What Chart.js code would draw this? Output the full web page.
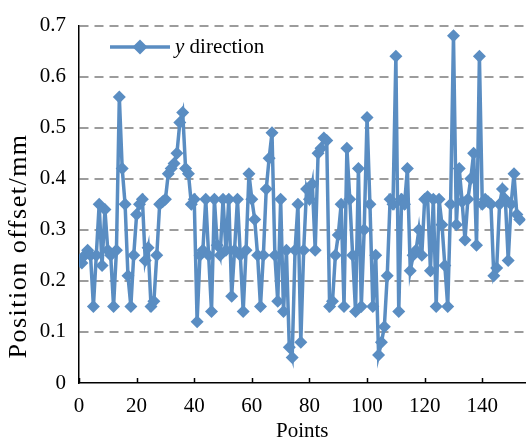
<!DOCTYPE html>
<html>
<head>
<meta charset="utf-8">
<script src="https://cdn.jsdelivr.net/npm/chart.js@4/dist/chart.umd.min.js"></script>
<style>
html,body{margin:0;padding:0;background:#fff;}
#wrap{width:532px;height:445px;position:relative;}
</style>
</head>
<body>
<div id="wrap"><canvas id="c" width="532" height="445"></canvas></div>
<script>
// ---- data ----
const seriesName = "y direction";
const yValues = [
0.24,0.235,0.25,0.26,0.25,0.15,0.25,0.35,0.23,0.34,
0.26,0.25,0.15,0.26,0.56,0.42,0.35,0.21,0.15,0.25,
0.33,0.35,0.36,0.24,0.265,0.15,0.16,0.25,0.35,0.355,
0.36,0.41,0.42,0.43,0.45,0.51,0.53,0.42,0.41,0.35,
0.36,0.12,0.25,0.26,0.36,0.25,0.14,0.36,0.27,0.25,
0.36,0.26,0.36,0.17,0.26,0.36,0.25,0.14,0.26,0.41,
0.36,0.32,0.25,0.15,0.25,0.38,0.44,0.49,0.25,0.16,
0.36,0.14,0.26,0.07,0.05,0.26,0.35,0.08,0.26,0.38,
0.36,0.39,0.26,0.45,0.46,0.48,0.475,0.15,0.16,0.25,
0.29,0.35,0.15,0.46,0.36,0.25,0.14,0.42,0.15,0.30,
0.52,0.35,0.15,0.25,0.055,0.08,0.11,0.21,0.36,0.35,
0.64,0.14,0.36,0.35,0.42,0.22,0.25,0.26,0.30,0.25,
0.36,0.365,0.22,0.36,0.15,0.36,0.31,0.23,0.15,0.35,
0.68,0.31,0.42,0.355,0.28,0.36,0.40,0.45,0.27,0.64,
0.35,0.36,0.355,0.35,0.21,0.225,0.35,0.38,0.36,0.24,
0.35,0.41,0.33,0.32
];
const xTickValues = [0,20,40,60,80,100,120,140];
const yTickValues = [0,0.1,0.2,0.3,0.4,0.5,0.6,0.7];
const xTitle = "Points";
const yTitle = "Position offset/mm";

const points = yValues.map((v,i)=>({x:i,y:v}));
const blue = '#5a8dc2';
const font = "'Liberation Serif','Times New Roman',serif";

const extras = {
  id:'extras',
  afterDraw(chart){
    const ctx = chart.ctx, xs = chart.scales.x, a = chart.chartArea;
    ctx.save();
    // inner tick marks on x axis
    ctx.strokeStyle = '#000'; ctx.lineWidth = 1.5;
    xTickValues.forEach(v=>{
      const px = Math.round(xs.getPixelForValue(v))+0.5;
      ctx.beginPath(); ctx.moveTo(px,a.bottom); ctx.lineTo(px,a.bottom-5); ctx.stroke();
    });
    // legend
    const ly = 47, lx0 = 110, lx1 = 170;
    ctx.strokeStyle = blue; ctx.lineWidth = 3.5;
    ctx.beginPath(); ctx.moveTo(lx0,ly); ctx.lineTo(lx1,ly); ctx.stroke();
    ctx.fillStyle = blue;
    const r = 7.5, cx = 140;
    ctx.beginPath(); ctx.moveTo(cx,ly-r); ctx.lineTo(cx+r,ly); ctx.lineTo(cx,ly+r); ctx.lineTo(cx-r,ly); ctx.closePath(); ctx.fill();
    ctx.fillStyle = '#000'; ctx.textBaseline = 'middle'; ctx.textAlign = 'left';
    ctx.font = "italic 21px " + font;
    const parts = seriesName.split(' ');
    ctx.fillText(parts[0], 175, ly);
    const w = ctx.measureText(parts[0] + ' ').width;
    ctx.font = "21px " + font;
    ctx.fillText(parts.slice(1).join(' '), 175 + w, ly);
    // y axis title (rotated)
    ctx.translate(19, 246);
    ctx.rotate(-Math.PI/2);
    ctx.font = "26px " + font;
    if ('letterSpacing' in ctx) ctx.letterSpacing = '1.5px';
    ctx.textAlign = 'center'; ctx.textBaseline = 'middle';
    ctx.fillText(yTitle, 0, 0);
    ctx.restore();
  }
};

new Chart(document.getElementById('c'), {
  type:'line',
  data:{datasets:[{
    label:seriesName,
    data:points,
    borderColor:blue,
    backgroundColor:blue,
    borderWidth:3.5,
    pointStyle:'rectRot',
    pointRadius:6.5,
    pointBorderWidth:0,
    pointBackgroundColor:blue,
    tension:0
  }]},
  options:{
    responsive:false,
    animation:false,
    devicePixelRatio:1,
    layout:{padding:{top:21,right:0,bottom:0,left:0}},
    plugins:{legend:{display:false},tooltip:{enabled:false}},
    scales:{
      x:{
        type:'linear', min:0, max:155,
        afterBuildTicks(s){ s.ticks = xTickValues.map(v=>({value:v})); },
        afterFit(s){ s.height = 62; },
        grid:{display:true, drawOnChartArea:false, drawTicks:false},
        border:{display:true,color:'#000',width:1.5},
        ticks:{color:'#000',font:{family:font,size:21},padding:11,maxRotation:0},
        title:{display:true,text:xTitle,color:'#000',font:{family:font,size:21},padding:{top:0,bottom:1}}
      },
      y:{
        min:0, max:0.7,
        afterBuildTicks(s){ s.ticks = yTickValues.map(v=>({value:v})); },
        afterFit(s){ s.width = 79; },
        grid:{drawTicks:false,color:(c)=>c.tick && c.tick.value===0 ? 'rgba(0,0,0,0)' : '#9c9c9c',lineWidth:2},
        border:{display:true,color:'#000',width:1.5,dash:[9,6]},
        ticks:{color:'#000',font:{family:font,size:21},padding:13,callback:(v)=>v===0?'0':v.toFixed(1)},
        title:{display:false,text:yTitle}
      }
    }
  },
  plugins:[extras]
});
</script>
</body>
</html>
